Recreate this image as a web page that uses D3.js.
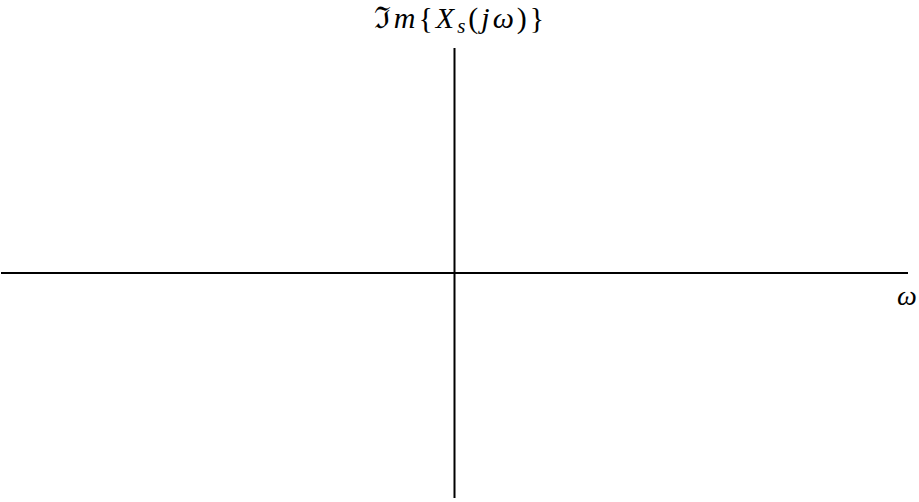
<!DOCTYPE html>
<head>
  <meta charset="utf-8">
  <script src="https://d3js.org/d3.v7.min.js"></script>
  <style>
    body { margin: 0; background: #fff; }
  </style>
</head>
<body>

<div id="my_dataviz"></div>

<script>

  // axis extents (no data plotted, only the two axes)
  var omegaRange = [-1, 1];
  var imagRange = [-1, 1];
  var xLabel = "ω";

  var width = 919, height = 502;
  var serif = "'Liberation Serif', 'DejaVu Serif', serif";

  var svg = d3.select("#my_dataviz")
    .append("svg")
      .attr("width", width)
      .attr("height", height);

  var x = d3.scaleLinear().domain(omegaRange).range([1, 908]);
  var y = d3.scaleLinear().domain(imagRange).range([498, 48]);

  // horizontal axis
  svg.append("line")
    .attr("x1", x(omegaRange[0]))
    .attr("x2", x(omegaRange[1]))
    .attr("y1", y(0))
    .attr("y2", y(0))
    .style("stroke", "#000")
    .style("stroke-width", 2);

  // vertical axis
  svg.append("line")
    .attr("x1", x(0))
    .attr("x2", x(0))
    .attr("y1", y(imagRange[0]))
    .attr("y2", y(imagRange[1]))
    .style("stroke", "#000")
    .style("stroke-width", 2);

  // omega label
  svg.append("text")
    .attr("x", x(omegaRange[1]) - 1)
    .attr("y", y(0) + 32)
    .attr("text-anchor", "middle")
    .style("font-family", serif)
    .style("font-style", "italic")
    .style("font-size", "28px")
    .text(xLabel);

  // y label: Im{X_s(jw)}
  var t = svg.append("text")
    .attr("x", x(0) + 6)
    .attr("y", 28)
    .attr("text-anchor", "middle")
    .style("font-family", serif)
    .style("font-size", "30px")
    .style("letter-spacing", "3px");

  t.append("tspan").text("ℑ");
  t.append("tspan").style("font-style", "italic").text("m");
  t.append("tspan").text("{");
  t.append("tspan").style("font-style", "italic").text("X");
  t.append("tspan").style("font-style", "italic").style("font-size", "21px").attr("dy", 5).text("s");
  t.append("tspan").attr("dy", -5).text("(");
  t.append("tspan").style("font-style", "italic").text("jω");
  t.append("tspan").text(")}");

</script>

</body>
